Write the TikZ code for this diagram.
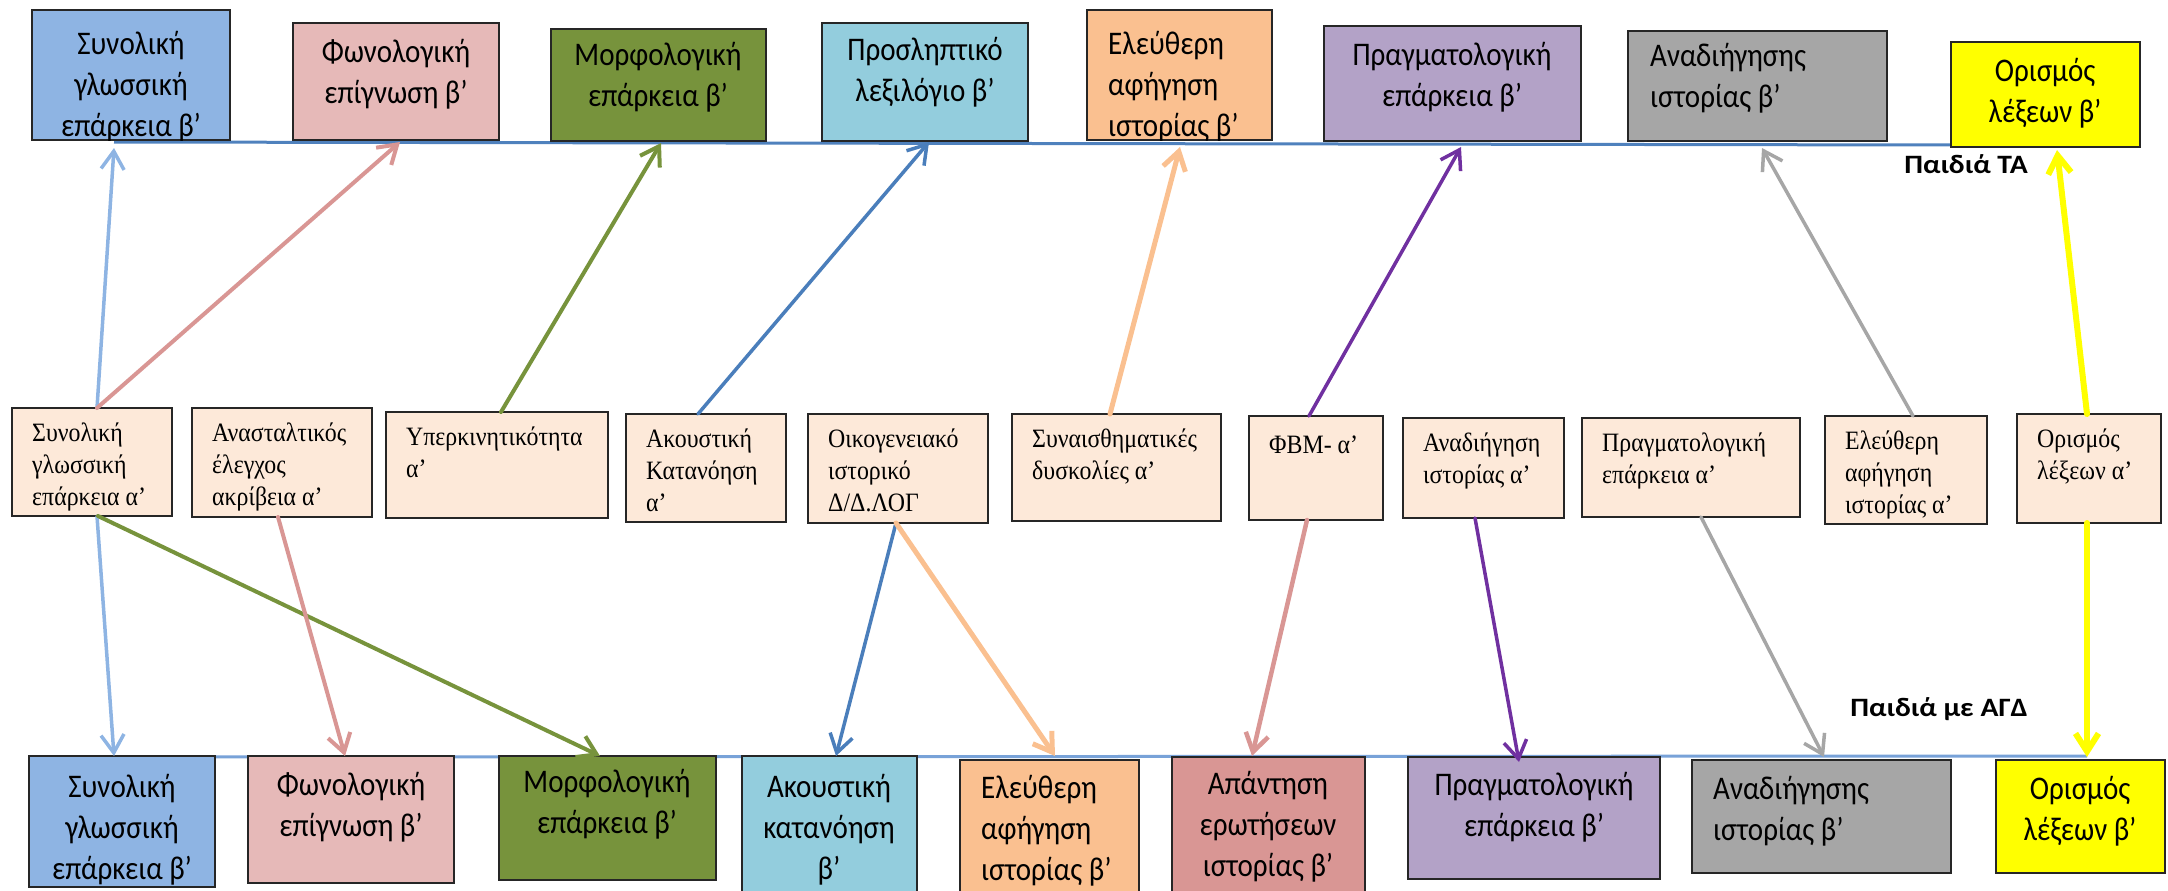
\documentclass[tikz,border=0pt]{standalone}
\usepackage{fontspec}
\setmainfont{Liberation Serif}[FakeStretch=0.9]
\newfontfamily\calfnt[FakeStretch=0.88]{Carlito}
\newfontfamily\tagfnt[FakeStretch=1.12]{Carlito}
\usetikzlibrary{arrows.meta}

% fills
\definecolor{fBlue}{HTML}{8EB4E3}
\definecolor{fPink}{HTML}{E6B9B8}
\definecolor{fOlive}{HTML}{77933C}
\definecolor{fAqua}{HTML}{93CDDD}
\definecolor{fOrange}{HTML}{FAC090}
\definecolor{fPurple}{HTML}{B3A2C7}
\definecolor{fGray}{HTML}{A6A6A6}
\definecolor{fYellow}{HTML}{FFFF00}
\definecolor{fRose}{HTML}{D99694}
\definecolor{fPeach}{HTML}{FDE9D9}
% connector colours
\definecolor{aLB}{HTML}{8EB4E3}
\definecolor{aPink}{HTML}{D99694}
\definecolor{aOlive}{HTML}{77933C}
\definecolor{aBlue}{HTML}{4A7EBB}
\definecolor{aPeach}{HTML}{FAC090}
\definecolor{aPurple}{HTML}{7030A0}
\definecolor{aGray}{HTML}{A6A6A6}
\definecolor{aYellow}{HTML}{FFFF00}
\definecolor{lineTop}{HTML}{4F81BD}
\definecolor{lineBot}{HTML}{78A2D8}

\tikzset{
  box/.style={draw=black!85, line width=1.6pt, anchor=north west, inner sep=0pt, outer sep=0pt},
  ptxt/.style={font=\calfnt\fontsize{33}{41}\selectfont, inner sep=0pt,
    execute at begin node=\strut, execute at end node=\strut},
  ctr/.style={ptxt, align=center},
  lft/.style={ptxt, align=left, anchor=west},
  mtxt/.style={font=\fontsize{26.5}{32}\selectfont, align=left, anchor=north west,
    inner sep=0pt, execute at begin node=\strut},
  conn/.style={line width=4pt, line cap=round, line join=round,
    -{Straight Barb[length=18pt,width=23pt]}},
  tag/.style={font=\tagfnt\bfseries\fontsize{26.5}{30}\selectfont, anchor=base east, inner sep=0pt},
}

% box with its text clipped to the frame:
% name, x1, y1, x2, y2, box options, text position, text options, text
\newcommand\placebox[9]{%
  \node[box,#6,minimum width={#4-#2},minimum height={#5-#3}] (#1) at (#2,#3) {};
  \begin{scope}
    \clip (#1.north west) rectangle (#1.south east);
    \node[#8] (#1-txt) at (#7) {#9};
  \end{scope}}

\begin{document}
\begin{tikzpicture}[x=1pt,y=-1pt]
\useasboundingbox (0,0) rectangle (2168,891);

% time lines
\coordinate (topL) at (114,142);
\coordinate (topR) at (1951,145);
\coordinate (botL) at (114,757);
\coordinate (botR) at (2087,756);
\draw[lineTop, line width=3pt] (topL) -- (topR);
\draw[lineBot, line width=3pt] (botL) -- (botR);

% second measurement, typically developing children
\placebox{t1}{32}{10}{230}{140}{fill=fBlue}{131,90}{ctr}{Συνολική\\γλωσσική\\επάρκεια β’}
\placebox{t2}{293}{23}{499}{140}{fill=fPink}{396,78}{ctr}{Φωνολογική\\επίγνωση β’}
\placebox{t3}{551}{29}{766}{141}{fill=fOlive}{658,81}{ctr}{Μορφολογική\\επάρκεια β’}
\placebox{t4}{822}{23}{1028}{141}{fill=fAqua}{925,76}{ctr}{Προσληπτικό\\λεξιλόγιο β’}
\placebox{t5}{1087}{10}{1272}{140}{fill=fOrange}{1108,90}{lft}{Ελεύθερη\\αφήγηση\\ιστορίας β’}
\placebox{t6}{1324}{26}{1581}{141}{fill=fPurple}{1452,81}{ctr}{Πραγματολογική\\επάρκεια β’}
\placebox{t7}{1628}{31}{1887}{141}{fill=fGray}{1650,82}{lft}{Αναδιήγησης\\ιστορίας β’}
\placebox{t8}{1951}{42}{2140}{147}{fill=fYellow}{2045,97}{ctr}{Ορισμός\\λέξεων β’}

% first measurement predictors
\placebox{m1}{12}{408}{172}{516}{fill=fPeach}{32,423}{mtxt}{Συνολική\\γλωσσική\\επάρκεια α’}
\placebox{m2}{192}{408}{372}{517}{fill=fPeach}{212,423}{mtxt}{Ανασταλτικός\\έλεγχος\\ακρίβεια α’}
\placebox{m3}{386}{412}{608}{518}{fill=fPeach}{406,427}{mtxt}{Υπερκινητικότητα\\α’}
\placebox{m4}{626}{414}{786}{522}{fill=fPeach}{646,429}{mtxt}{Ακουστική\\Κατανόηση\\α’}
\placebox{m5}{808}{414}{988}{523}{fill=fPeach}{828,429}{mtxt}{Οικογενειακό\\ιστορικό\\Δ/Δ.ΛΟΓ}
\placebox{m6}{1012}{414}{1221}{521}{fill=fPeach}{1032,429}{mtxt}{Συναισθηματικές\\δυσκολίες α’}
\placebox{m7}{1249}{416}{1383}{520}{fill=fPeach}{1269,431}{mtxt}{ΦΒΜ- α’}
\placebox{m8}{1403}{418}{1564}{518}{fill=fPeach}{1423,433}{mtxt}{Αναδιήγηση\\ιστορίας α’}
\placebox{m9}{1582}{418}{1800}{517}{fill=fPeach}{1602,433}{mtxt}{Πραγματολογική\\επάρκεια α’}
\placebox{m10}{1825}{416}{1987}{524}{fill=fPeach}{1845,431}{mtxt}{Ελεύθερη\\αφήγηση\\ιστορίας α’}
\placebox{m11}{2017}{414}{2161}{523}{fill=fPeach}{2037,429}{mtxt}{Ορισμός\\λέξεων α’}

% second measurement, children with language disorder
\placebox{b1}{29}{756}{215}{887}{fill=fBlue}{122,833}{ctr}{Συνολική\\γλωσσική\\επάρκεια β’}
\placebox{b2}{248}{756}{454}{883}{fill=fPink}{351,811}{ctr}{Φωνολογική\\επίγνωση β’}
\placebox{b3}{499}{756}{716}{880}{fill=fOlive}{607,808}{ctr}{Μορφολογική\\επάρκεια β’}
\placebox{b4}{742}{756}{917}{910}{fill=fAqua}{829,833}{ctr}{Ακουστική\\κατανόηση\\β’}
\placebox{b5}{960}{760}{1139}{910}{fill=fOrange}{981,834}{lft}{Ελεύθερη\\αφήγηση\\ιστορίας β’}
\placebox{b6}{1172}{757}{1365}{910}{fill=fRose}{1268,830}{ctr}{Απάντηση\\ερωτήσεων\\ιστορίας β’}
\placebox{b7}{1408}{757}{1660}{879}{fill=fPurple}{1534,811}{ctr}{Πραγματολογική\\επάρκεια β’}
\placebox{b8}{1692}{760}{1951}{873}{fill=fGray}{1713,815}{lft}{Αναδιήγησης\\ιστορίας β’}
\placebox{b9}{1996}{760}{2165}{873}{fill=fYellow}{2080,815}{ctr}{Ορισμός\\λέξεων β’}

% connectors towards the upper row
\draw[conn, aLB, line width=3.5pt] ([shift={(5,0)}]m1.north) -- ([shift={(-17,8)}]t1.south);
\draw[conn, aPink] ([shift={(5,0)}]m1.north) -- ([shift={(4,2)}]t2.south);
\draw[conn, aOlive] ([shift={(4,0)}]m3.north) -- ([shift={(2.5,2)}]t3.south);
\draw[conn, aBlue, line width=3.5pt] ([shift={(-8,0)}]m4.north) -- ([shift={(4,1)}]t4.south);
\draw[conn, aPeach, line width=5pt] ([shift={(-6.5,0)}]m6.north) -- ([shift={(0.5,7)}]t5.south);
\draw[conn, aPurple, line width=3.5pt] ([shift={(-7,0)}]m7.north) -- ([shift={(8.5,6)}]t6.south);
\draw[conn, aGray, line width=3.5pt] ([shift={(7,0)}]m10.north) -- ([shift={(4.5,7)}]t7.south);
\draw[conn, aYellow, line width=6pt] ([shift={(-2,0)}]m11.north) -- ([shift={(11.5,3)}]t8.south);

% connectors towards the lower row
\draw[conn, aLB, line width=3.5pt] ([shift={(5,0)}]m1.south) -- ([shift={(-8,0)}]b1.north);
\draw[conn, aOlive] ([shift={(6,0)}]m1.south) -- ([shift={(-7.5,0)}]b3.north);
\draw[conn, aPink] ([shift={(-4,0)}]m2.south) -- ([shift={(-6,0)}]b2.north);
\draw[conn, aBlue, line width=3.5pt] ([shift={(-2,0)}]m5.south) -- ([shift={(6.5,0)}]b4.north);
\draw[conn, aPeach, line width=5pt] ([shift={(-2,0)}]m5.south) -- ([shift={(5.5,-4)}]b5.north);
\draw[conn, aPink, line width=4.5pt] ([shift={(-9,0)}]m7.south) -- ([shift={(-16.5,-1)}]b6.north);
\draw[conn, aPurple, line width=3.5pt] ([shift={(-8.5,0)}]m8.south) -- ([shift={(-15,5)}]b7.north);
\draw[conn, aGray, line width=3.5pt] ([shift={(10,0)}]m9.south) -- ([shift={(2.5,-3)}]b8.north);
\draw[conn, aYellow, line width=6pt] ([shift={(-2,0)}]m11.south) -- ([shift={(6.5,-3)}]b9.north);

% group labels
\node[tag] (grpTA) at (2028,173) {Παιδιά ΤΑ};
\node[tag] (grpAGD) at (2028,716) {Παιδιά με ΑΓΔ};
\end{tikzpicture}
\end{document}
